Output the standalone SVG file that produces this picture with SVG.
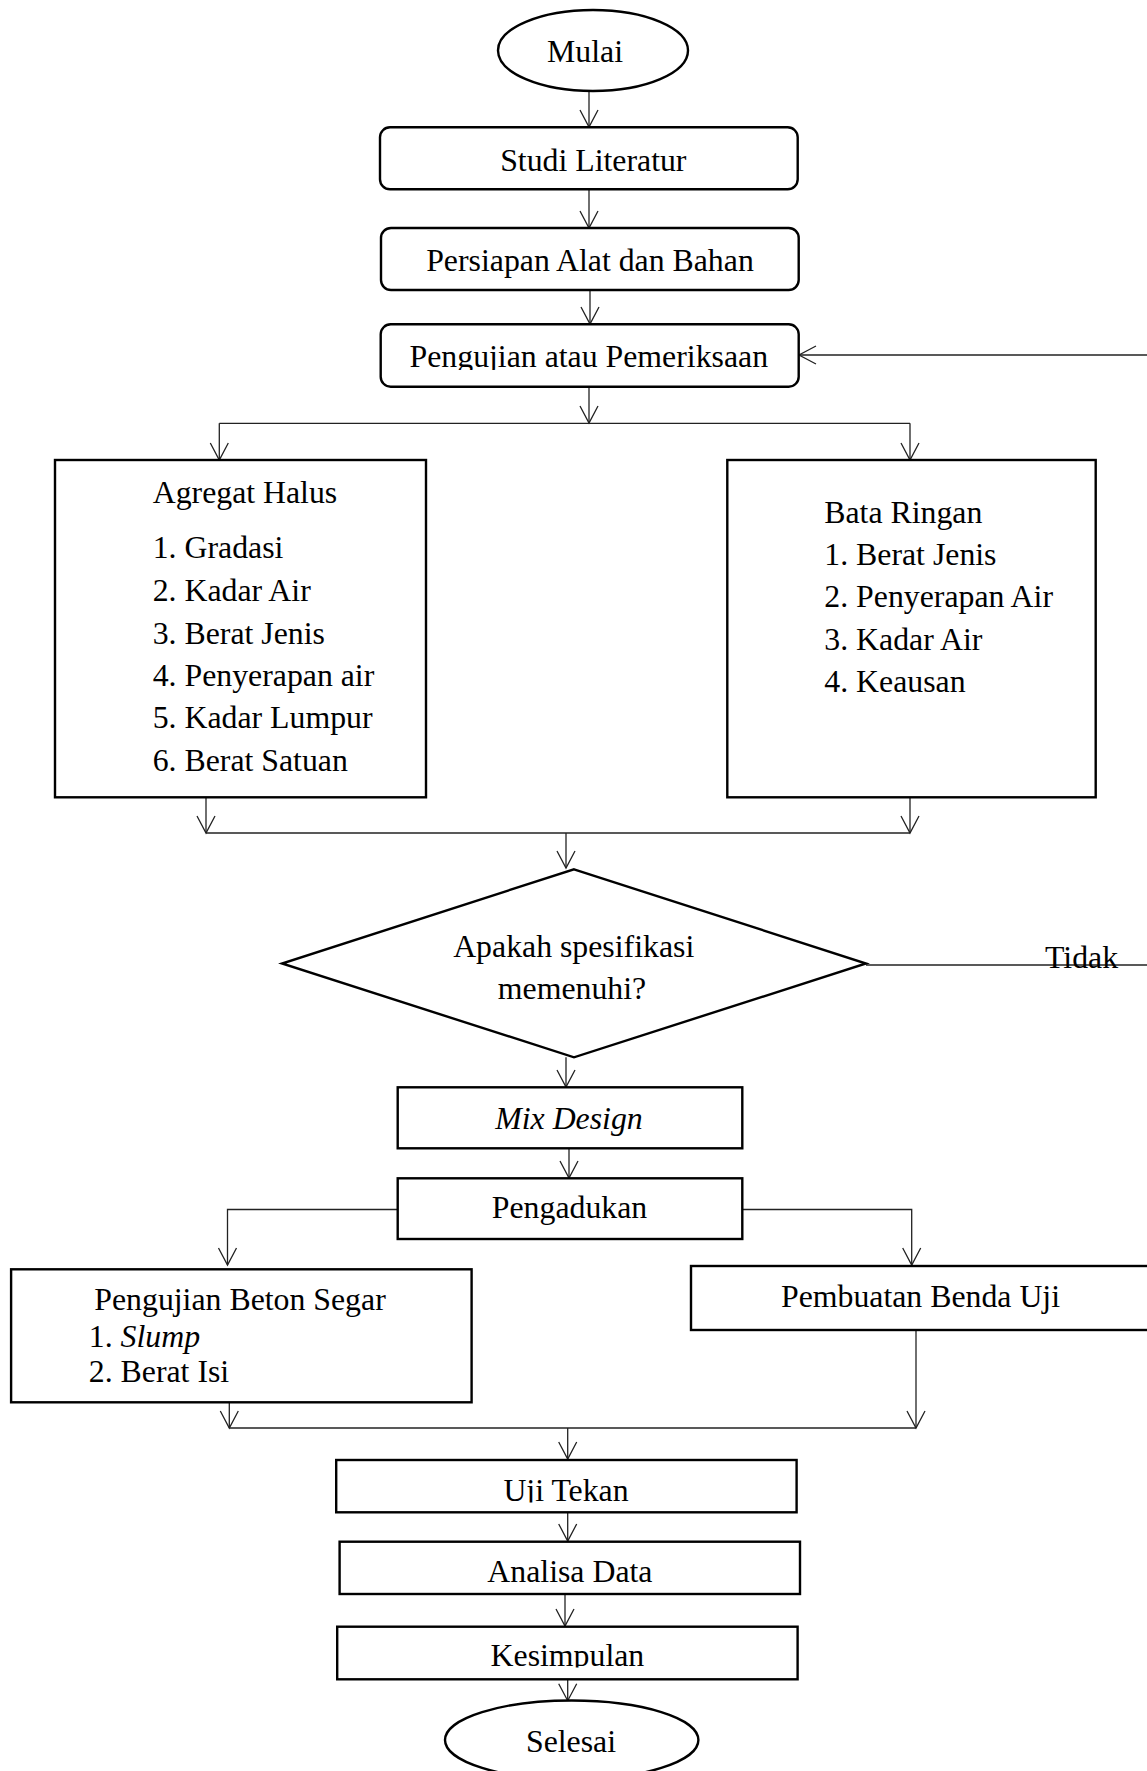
<svg xmlns="http://www.w3.org/2000/svg" width="1147" height="1771" viewBox="0 0 1147 1771">
<style>
.t{font-family:"Liberation Serif","Times New Roman",serif;font-size:31.8px;fill:#000}
.c{text-anchor:middle}
.i{font-style:italic}
.box{fill:#fff;stroke:#000;stroke-width:2.4}
.con{fill:none;stroke:#222;stroke-width:1.3}
</style>
<defs>
<marker id="ah" markerUnits="userSpaceOnUse" markerWidth="22" markerHeight="22" viewBox="-19 -11 22 22" refX="0" refY="0" orient="auto">
<path d="M-17,-9 L0,0 L-17,9" fill="none" stroke="#222" stroke-width="1.3"/>
</marker>
<clipPath id="clipPeng"><rect x="380" y="324" width="420" height="46"/></clipPath>
<clipPath id="clipUji"><rect x="336" y="1460" width="462" height="42.5"/></clipPath>
<clipPath id="clipKes"><rect x="337" y="1626" width="462" height="41.5"/></clipPath>
</defs>
<rect width="1147" height="1771" fill="#fff"/>

<g id="connectors">
<path class="con" d="M589,91 V127" marker-end="url(#ah)"/>
<path class="con" d="M589,189.3 V228" marker-end="url(#ah)"/>
<path class="con" d="M590,290 V324" marker-end="url(#ah)"/>
<path class="con" d="M589,386.7 V423" marker-end="url(#ah)"/>
<path class="con" d="M219.3,423.3 H910"/>
<path class="con" d="M219.3,423.3 V460" marker-end="url(#ah)"/>
<path class="con" d="M910,423.3 V460" marker-end="url(#ah)"/>
<path class="con" d="M206,797.3 V833" marker-end="url(#ah)"/>
<path class="con" d="M910,797.3 V833" marker-end="url(#ah)"/>
<path class="con" d="M206,833 H910"/>
<path class="con" d="M566,833 V868" marker-end="url(#ah)"/>
<path class="con" d="M866,965 H1147"/>
<path class="con" d="M1147,355 H799" marker-end="url(#ah)"/>
<path class="con" d="M566,1057.3 V1087" marker-end="url(#ah)"/>
<path class="con" d="M569,1148.3 V1178" marker-end="url(#ah)"/>
<path class="con" d="M397.7,1209.5 H227.5 V1265" marker-end="url(#ah)"/>
<path class="con" d="M742.3,1209.5 H911.7 V1265" marker-end="url(#ah)"/>
<path class="con" d="M229.3,1402.3 V1428" marker-end="url(#ah)"/>
<path class="con" d="M916,1330 V1428" marker-end="url(#ah)"/>
<path class="con" d="M229.3,1428 H916"/>
<path class="con" d="M567.7,1428 V1459" marker-end="url(#ah)"/>
<path class="con" d="M567.7,1512.3 V1541" marker-end="url(#ah)"/>
<path class="con" d="M565,1594 V1626" marker-end="url(#ah)"/>
<path class="con" d="M567.7,1679.3 V1700.7" marker-end="url(#ah)"/>
</g>

<g id="mulai">
<ellipse class="box" cx="593" cy="50.5" rx="95" ry="40.5"/>
<text class="t c" x="585" y="61.7">Mulai</text>
</g>

<g id="studi">
<rect class="box" x="380" y="127.3" width="417.7" height="62" rx="10"/>
<text class="t c" x="593.3" y="170.7">Studi Literatur</text>
</g>

<g id="persiapan">
<rect class="box" x="381" y="228" width="417.7" height="62" rx="10"/>
<text class="t c" x="590" y="270.7">Persiapan Alat dan Bahan</text>
</g>

<g id="pengujian">
<rect class="box" x="380.7" y="324.3" width="418" height="62.4" rx="10"/>
<text class="t c" x="588.8" y="366.7" clip-path="url(#clipPeng)">Pengujian atau Pemeriksaan</text>
</g>

<g id="agregat">
<rect class="box" x="55" y="460" width="371" height="337.3"/>
<text class="t" x="152.7" y="503.3">Agregat Halus</text>
<text class="t" x="152.7" y="558.3">1. Gradasi</text>
<text class="t" x="152.7" y="601">2. Kadar Air</text>
<text class="t" x="152.7" y="644">3. Berat Jenis</text>
<text class="t" x="152.7" y="686">4. Penyerapan air</text>
<text class="t" x="152.7" y="728.3">5. Kadar Lumpur</text>
<text class="t" x="152.7" y="770.7">6. Berat Satuan</text>
</g>

<g id="bata">
<rect class="box" x="727.3" y="460" width="368.4" height="337.3"/>
<text class="t" x="824.3" y="522.7">Bata Ringan</text>
<text class="t" x="824.3" y="565">1. Berat Jenis</text>
<text class="t" x="824.3" y="607.3">2. Penyerapan Air</text>
<text class="t" x="824.3" y="650">3. Kadar Air</text>
<text class="t" x="824.3" y="692.3">4. Keausan</text>
</g>

<g id="keputusan">
<polygon class="box" points="574,869.3 866,963.5 574,1057.3 282,963.5"/>
<text class="t c" x="573.7" y="957.3">Apakah spesifikasi</text>
<text class="t c" x="572" y="999.3">memenuhi?</text>
</g>

<g id="label-tidak">
<text class="t" x="1045" y="968">Tidak</text>
</g>

<g id="mixdesign">
<rect class="box" x="397.7" y="1087.3" width="344.6" height="61"/>
<text class="t c i" x="569" y="1129">Mix Design</text>
</g>

<g id="pengadukan">
<rect class="box" x="397.7" y="1178.3" width="344.6" height="60.7"/>
<text class="t c" x="569.5" y="1218.3">Pengadukan</text>
</g>

<g id="betonsegar">
<rect class="box" x="11.1" y="1269.3" width="460.5" height="133"/>
<text class="t" x="94.3" y="1310">Pengujian Beton Segar</text>
<text class="t" x="88.8" y="1346.7">1. <tspan class="i">Slump</tspan></text>
<text class="t" x="88.8" y="1382.3">2. Berat Isi</text>
</g>

<g id="pembuatan">
<rect class="box" x="691" y="1266" width="470" height="64"/>
<text class="t c" x="920.5" y="1306.7">Pembuatan Benda Uji</text>
</g>

<g id="ujitekan">
<rect class="box" x="336.2" y="1460" width="460.4" height="52.3"/>
<text class="t c" x="566" y="1500.7" clip-path="url(#clipUji)">Uji Tekan</text>
</g>

<g id="analisa">
<rect class="box" x="339.6" y="1541.7" width="460.4" height="52.3"/>
<text class="t c" x="569.9" y="1582.3">Analisa Data</text>
</g>

<g id="kesimpulan">
<rect class="box" x="337.2" y="1626.7" width="460.4" height="52.6"/>
<text class="t c" x="567.4" y="1666" clip-path="url(#clipKes)">Kesimpulan</text>
</g>

<g id="selesai">
<ellipse class="box" cx="571.7" cy="1740" rx="126.7" ry="39.5"/>
<text class="t c" x="571" y="1751.7">Selesai</text>
</g>
</svg>
